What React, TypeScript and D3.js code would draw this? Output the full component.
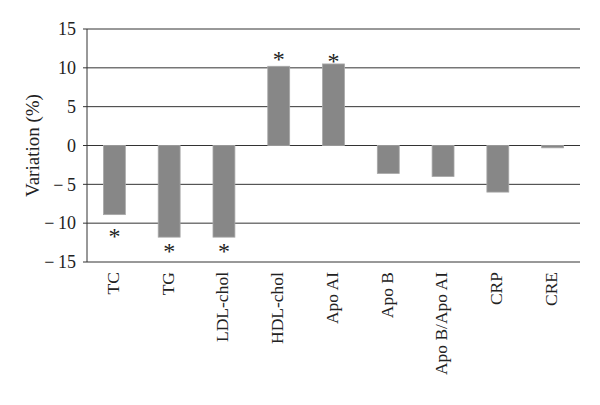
import React from 'react';
import * as d3 from 'd3';

const categories = ['TC', 'TG', 'LDL-chol', 'HDL-chol', 'Apo AI', 'Apo B', 'Apo B/Apo AI', 'CRP', 'CRE'];
const values = [-8.9, -11.8, -11.8, 10.2, 10.5, -3.6, -4.0, -6.0, -0.3];
// where the significance star sits (in % units), null when not significant
const starAt = [-11.1, -13.1, -13.1, 11.6, 11.4, null, null, null, null];
const yTicks = [-15, -10, -5, 0, 5, 10, 15];

const width = 600;
const height = 405;
const margin = { top: 29, right: 20, bottom: 143, left: 87 };

const App = () => {
  const x = d3.scaleBand()
    .domain(categories)
    .range([margin.left, width - margin.right])
    .paddingInner(0.6)
    .paddingOuter(0.3);
  const y = d3.scaleLinear()
    .domain([-15, 15])
    .range([height - margin.bottom, margin.top]);

  const font = '"Liberation Serif", "DejaVu Serif", serif';
  const fmt = (v: number) => (v < 0 ? '\u2212\u2009' + Math.abs(v) : String(v));

  return (
    <svg width={width} height={height} style={{ position: 'absolute', left: 0, top: 0 }}>
      <rect width={width} height={height} fill="#fff" />
      {yTicks.map(t => (
        <g key={t}>
          <line x1={margin.left - 4} x2={width - margin.right} y1={y(t)} y2={y(t)} stroke="#333" strokeWidth={1} />
          <text x={margin.left - 11} y={y(t)} dy="0.35em" textAnchor="end" fontFamily={font} fontSize={18} fill="#222">
            {fmt(t)}
          </text>
        </g>
      ))}
      <line x1={margin.left} x2={margin.left} y1={y(15)} y2={y(-15)} stroke="#333" strokeWidth={1} />
      {categories.map((c, i) => {
        const v = values[i];
        const bx = x(c) as number;
        const top = y(Math.max(0, v));
        const bot = y(Math.min(0, v));
        const cx = bx + x.bandwidth() / 2;
        const s = starAt[i];
        return (
          <g key={c}>
            <rect x={bx} y={top} width={x.bandwidth()} height={Math.max(bot - top, 1)} fill="#878787" stroke="#a8a8a8" strokeWidth={0.8} />
            {s !== null && (
              <text x={cx} y={y(s) + 12} textAnchor="middle" fontFamily={font} fontSize={24} fill="#222">*</text>
            )}
            <text
              transform={`translate(${cx},${y(-15) + 10}) rotate(-90)`}
              dy="0.25em"
              textAnchor="end"
              fontFamily={font}
              fontSize={17.5}
              fill="#222"
            >
              {c}
            </text>
          </g>
        );
      })}
      <text
        transform={`translate(32,${(y(15) + y(-15)) / 2}) rotate(-90)`}
        textAnchor="middle"
        dy="0.35em"
        fontFamily={font}
        fontSize={19}
        fill="#222"
      >
        Variation (%)
      </text>
    </svg>
  );
};

export default App;
